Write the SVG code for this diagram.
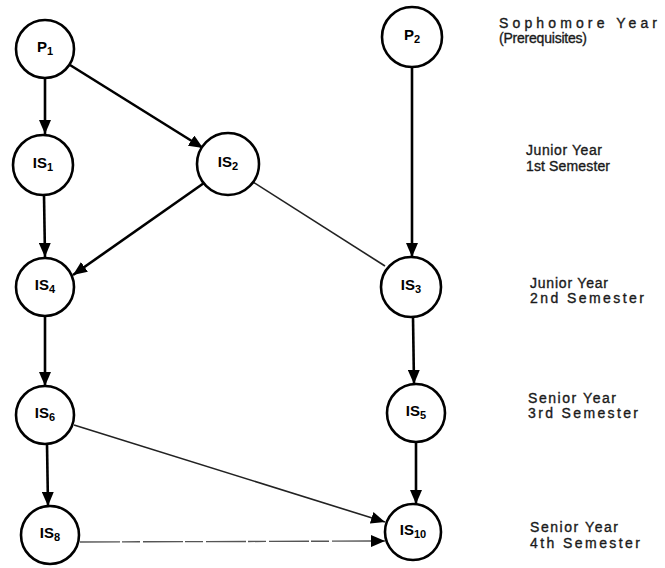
<svg xmlns="http://www.w3.org/2000/svg" width="665" height="568" viewBox="0 0 665 568">
<style>
.node circle{fill:#fff;stroke:#000;stroke-width:2.6}
.node text{font-family:"Liberation Sans",Arial,sans-serif;font-weight:bold;font-size:15px;text-anchor:middle;fill:#000}
.node tspan{font-size:11px}
.thick{stroke:#000;stroke-width:2.6;fill:none}
.thin{stroke:#222;stroke-width:1.6;fill:none}
.faint{stroke:#555;stroke-width:1.4;fill:none;stroke-dasharray:40 2 18 3}
.lbl{font-family:"Liberation Sans",Arial,sans-serif;font-size:14px;fill:#1a1a1a;stroke:#1a1a1a;stroke-width:0.35}
</style>
<defs>
<marker id="ah" markerUnits="userSpaceOnUse" markerWidth="14" markerHeight="12" refX="14" refY="6" orient="auto">
<path d="M0,0 L14,6 L0,12 z" fill="#000"/>
</marker>
</defs>
<g id="connectors">
<line class="thick" x1="45" y1="78" x2="45" y2="134" marker-end="url(#ah)"/>
<line class="thick" x1="70" y1="65" x2="203" y2="148" marker-end="url(#ah)"/>
<line class="thick" x1="44" y1="195" x2="45" y2="257" marker-end="url(#ah)"/>
<line class="thick" x1="204" y1="183" x2="73" y2="275" marker-end="url(#ah)"/>
<line class="thin" x1="253" y1="182" x2="385" y2="266"/>
<line class="thick" x1="412" y1="67" x2="412" y2="257" marker-end="url(#ah)"/>
<line class="thick" x1="413" y1="317" x2="414" y2="384" marker-end="url(#ah)"/>
<line class="thick" x1="45" y1="316" x2="45" y2="386" marker-end="url(#ah)"/>
<line class="thick" x1="47" y1="444" x2="48" y2="506" marker-end="url(#ah)"/>
<line class="thin" x1="74" y1="425" x2="385" y2="522" marker-end="url(#ah)"/>
<line class="faint" x1="80" y1="542" x2="385" y2="541" marker-end="url(#ah)"/>
<line class="thick" x1="416" y1="442" x2="416" y2="504" marker-end="url(#ah)"/>
</g>
<g id="P1" class="node"><circle cx="45" cy="49" r="29"/><text x="45" y="52">P<tspan dy="3">1</tspan></text></g>
<g id="P2" class="node"><circle cx="412" cy="37" r="30"/><text x="412" y="40">P<tspan dy="3">2</tspan></text></g>
<g id="IS1" class="node"><circle cx="43" cy="165" r="30"/><text x="43" y="168">IS<tspan dy="3">1</tspan></text></g>
<g id="IS2" class="node"><circle cx="228" cy="164" r="31"/><text x="228" y="167">IS<tspan dy="3">2</tspan></text></g>
<g id="IS4" class="node"><circle cx="45" cy="287" r="29"/><text x="45" y="290">IS<tspan dy="3">4</tspan></text></g>
<g id="IS3" class="node"><circle cx="411" cy="287" r="30"/><text x="411" y="290">IS<tspan dy="3">3</tspan></text></g>
<g id="IS6" class="node"><circle cx="45" cy="415" r="29"/><text x="45" y="418">IS<tspan dy="3">6</tspan></text></g>
<g id="IS5" class="node"><circle cx="416" cy="413" r="29"/><text x="416" y="416">IS<tspan dy="3">5</tspan></text></g>
<g id="IS8" class="node"><circle cx="50" cy="535" r="29"/><text x="50" y="538">IS<tspan dy="3">8</tspan></text></g>
<g id="IS10" class="node"><circle cx="413" cy="532" r="28"/><text x="413" y="535">IS<tspan dy="3">10</tspan></text></g>
<g id="labels">
<text class="lbl" x="499" y="28" textLength="158" lengthAdjust="spacing">Sophomore Year</text>
<text class="lbl" x="499" y="43" textLength="88" lengthAdjust="spacing">(Prerequisites)</text>
<text class="lbl" x="526" y="155" textLength="76" lengthAdjust="spacing">Junior Year</text>
<text class="lbl" x="526" y="171" textLength="84" lengthAdjust="spacing">1st Semester</text>
<text class="lbl" x="530" y="288" textLength="78" lengthAdjust="spacing">Junior Year</text>
<text class="lbl" x="530" y="303" textLength="114" lengthAdjust="spacing">2nd Semester</text>
<text class="lbl" x="528" y="403" textLength="88" lengthAdjust="spacing">Senior Year</text>
<text class="lbl" x="528" y="418" textLength="110" lengthAdjust="spacing">3rd Semester</text>
<text class="lbl" x="530" y="532" textLength="88" lengthAdjust="spacing">Senior Year</text>
<text class="lbl" x="530" y="548" textLength="110" lengthAdjust="spacing">4th Semester</text>
</g>
</svg>
